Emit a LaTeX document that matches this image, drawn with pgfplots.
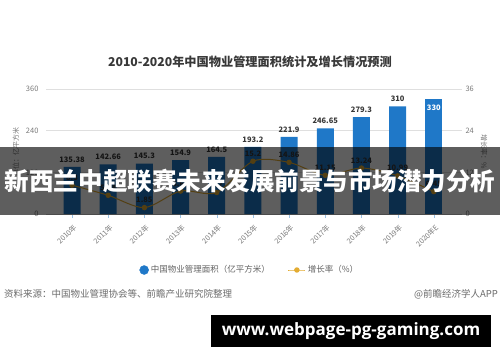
\documentclass[border=0pt]{standalone}
\usepackage{pgfplots}
\pgfplotsset{compat=1.18}
\usepackage{fontspec}
\setmainfont{Noto Sans CJK SC}
\newfontfamily\webfont{Open Sans}
\definecolor{barblue}{HTML}{1F78C8}
\definecolor{gold}{HTML}{E3AC32}
\definecolor{lbl}{HTML}{383838}
\definecolor{tickc}{HTML}{7A7A7A}
\pgfplotsset{/pgf/number format/assume math mode=true}
\begin{document}
\begin{tikzpicture}[x=1pt,y=1pt]
\path[use as bounding box, fill=white] (0,0) rectangle (500,362);
\begin{axis}[
  at={(46pt,148pt)}, anchor=south west, scale only axis,
  width=416pt, height=125pt,
  xmin=-0.72, xmax=10.78, ymin=0, ymax=360,
  axis x line*=bottom, axis y line*=left,
  x axis line style={draw=gray!40, -},
  y axis line style={draw=none},
  ytick={0,120,240,360},
  ymajorgrids, grid style={draw=gray!25},
  y tick style={draw=none},
  xtick={0,...,10},
  xticklabels={2010年,2011年,2012年,2013年,2014年,2015年,2016年,2017年,2018年,2019年,2020年E},
  xticklabel style={rotate=45, anchor=north east, font=\fontsize{7.3}{8}\selectfont, text=tickc, yshift=-1pt},
  x tick style={draw=barblue!45},
  tick align=outside, major tick length=4pt,
  yticklabel style={font=\fontsize{7.5}{8}\selectfont, text=tickc},
  ylabel={单位：亿平方米},
  ylabel style={font=\fontsize{7}{8}\selectfont, text=tickc, xshift=0pt},
  clip=false,
]
\addplot[ybar, bar width=17pt, bar shift=0pt, fill=barblue, draw=none,
  nodes near coords, nodes near coords style={font=\bfseries\fontsize{7.5}{8}\selectfont, text=lbl, yshift=1pt}]
  coordinates {(0,135.38) (1,142.66) (2,145.3) (3,154.9) (4,164.5) (5,193.2) (6,221.9) (7,246.65) (8,279.3) (9,310)};
\addplot[ybar, bar width=17pt, bar shift=0pt, fill=barblue, draw=none,
  nodes near coords, nodes near coords style={font=\bfseries\fontsize{7.5}{8}\selectfont, text=white, anchor=north, yshift=-2pt}]
  coordinates {(10,330)};
\end{axis}
\begin{axis}[
  at={(46pt,148pt)}, anchor=south west, scale only axis,
  width=416pt, height=125pt,
  xmin=-0.72, xmax=10.78, ymin=0, ymax=36,
  axis x line=none, axis y line*=right,
  y axis line style={draw=none},
  ytick={0,12,24,36}, y tick style={draw=none},
  yticklabel style={font=\fontsize{7.5}{8}\selectfont, text=tickc},
  ylabel={增长率：\%},
  ylabel style={font=\fontsize{7}{8}\selectfont, text=tickc, rotate=180},
  clip=false,
  legend style={at={(axis description cs:0.49,-0.448)}, anchor=center, draw=none, fill=none,
    legend columns=2, font=\fontsize{8.5}{9}\selectfont, text=tickc!80!black,
    /tikz/every even column/.append style={column sep=16pt}},
]
\addlegendimage{legend image code/.code={\fill[barblue] (0.3cm,0cm) circle (4.5pt);}}
\addlegendentry{中国物业管理面积（亿平方米）}
\addplot[gold, line width=1pt, smooth, mark=*, mark size=2.2pt, mark options={fill=gold, draw=gold},
  nodes near coords, nodes near coords style={font=\bfseries\fontsize{7.5}{8}\selectfont, text=lbl, yshift=1pt}]
  coordinates {(0,8.3) (1,5.38) (2,1.85) (3,6.61) (4,6.2) (5,15.2) (6,14.86) (7,11.15) (8,13.24) (9,10.99) (10,6.45)};
\addlegendentry{增长率（\%）}
\end{axis}
\node[font=\bfseries\fontsize{12.2}{14}\selectfont, text=lbl] at (250,300) {2010-2020年中国物业管理面积统计及增长情况预测};
\fill[black, opacity=0.63] (0,147.5) rectangle (500,215);
\node[font=\bfseries\fontsize{24.5}{26}\selectfont, text=white] at (250,181) {新西兰中超联赛未来发展前景与市场潜力分析};
\node[anchor=west, font=\fontsize{9.5}{10}\selectfont, text=gray!85!black, inner sep=0pt] at (4,68) {资料来源：中国物业管理协会等、前瞻产业研究院整理};
\node[anchor=east, font=\fontsize{9.5}{10}\selectfont, text=gray!85!black, inner sep=0pt] at (498,68) {@前瞻经济学人APP};
\fill[black] (211,15) rectangle (491,47);
\node[font=\webfont\bfseries\fontsize{17}{18}\selectfont, text=white] at (351,31) {www.webpage-pg-gaming.com};
\end{tikzpicture}
\end{document}
